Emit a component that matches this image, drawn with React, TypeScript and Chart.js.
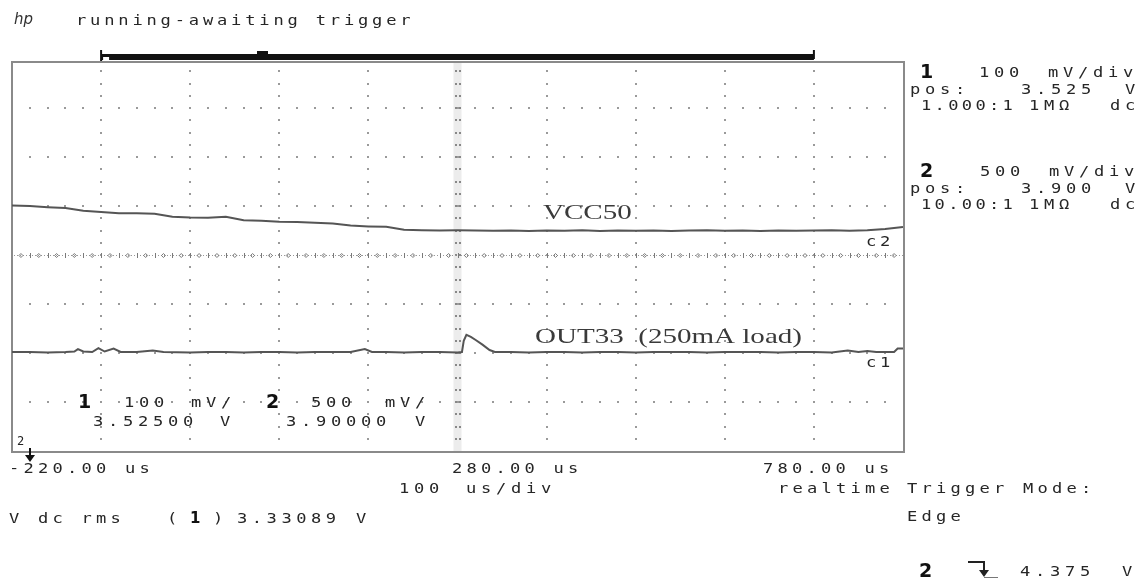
import React, { useEffect, useRef } from "react";
import { Chart, registerables } from "chart.js";

Chart.register(...registerables);

const W = 1142;
const H = 584;

// Time base: 100 us/div, 10 divisions
const timeMin = -220;
const timeMax = 780;
// Channel settings
const ch1Pos = 3.525;
const ch1PerDiv = 0.1;
const ch2Pos = 3.9;
const ch2PerDiv = 0.5;

// Channel 2 : VCC50
const vccTime = [
  -220, -200, -180, -160, -140, -120, -100, -80, -60, -40, -20, 0, 20, 40, 60, 80, 100, 120, 140, 160,
  180, 200, 220, 240, 260, 280, 300, 320, 340, 360, 380, 400, 420, 440, 460, 480, 500, 520, 540, 560,
  580, 600, 620, 640, 660, 680, 700, 720, 740, 760, 780,
];
const vccVolts = [
  4.405, 4.4, 4.388, 4.38, 4.352, 4.34, 4.326, 4.326, 4.322, 4.29, 4.282, 4.281, 4.29, 4.255, 4.25,
  4.24, 4.236, 4.228, 4.222, 4.2, 4.192, 4.188, 4.158, 4.152, 4.15, 4.152, 4.15, 4.148, 4.15, 4.146,
  4.15, 4.148, 4.152, 4.146, 4.15, 4.148, 4.15, 4.146, 4.15, 4.152, 4.148, 4.15, 4.146, 4.15, 4.148,
  4.15, 4.152, 4.148, 4.152, 4.165, 4.185,
];

// Channel 1 : OUT33 (250mA load)
const outTime = [
  -220, -200, -180, -160, -150, -146, -140, -130, -123, -116, -106, -98, -80, -62, -50, -20, 0, 20, 40,
  60, 80, 100, 120, 140, 160, 176, 184, 200, 220, 240, 260, 280, 285, 287, 290, 295, 300, 308, 316,
  322, 340, 360, 380, 400, 420, 440, 460, 480, 500, 520, 540, 560, 580, 600, 620, 640, 660, 680, 700,
  718, 730, 740, 750, 770, 774, 780,
];
const outVolts = [
  3.327, 3.327, 3.326, 3.327, 3.328, 3.333, 3.328, 3.327, 3.335, 3.328, 3.334, 3.327, 3.327, 3.33,
  3.327, 3.326, 3.327, 3.327, 3.326, 3.327, 3.327, 3.326, 3.327, 3.327, 3.327, 3.333, 3.327, 3.327,
  3.326, 3.327, 3.327, 3.326, 3.327, 3.35, 3.362, 3.358, 3.352, 3.342, 3.331, 3.327, 3.327, 3.326,
  3.327, 3.327, 3.326, 3.327, 3.327, 3.326, 3.327, 3.327, 3.327, 3.326, 3.327, 3.327, 3.327, 3.326,
  3.327, 3.327, 3.326, 3.33, 3.327, 3.329, 3.327, 3.327, 3.334, 3.334,
];

const timeLabels = ["-220.00 us", "280.00 us", "780.00 us"];

const MONO = '"DejaVu Sans Mono", "Liberation Mono", monospace';
const TXT = "#262626";

function mono(ctx: CanvasRenderingContext2D, s: string, x: number, y: number, pitch = 14.5, size = 14, color = TXT, hs = 1.22) {
  ctx.font = `${size}px ${MONO}`;
  ctx.fillStyle = color;
  ctx.textAlign = "left";
  ctx.textBaseline = "alphabetic";
  for (let i = 0; i < s.length; i++) {
    ctx.save();
    ctx.translate(x + i * pitch, y);
    ctx.scale(hs, 1);
    ctx.fillText(s[i], 0, 0);
    ctx.restore();
  }
}

function bold(ctx: CanvasRenderingContext2D, s: string, x: number, y: number, size = 19) {
  ctx.font = `bold ${size}px "DejaVu Sans", sans-serif`;
  ctx.fillStyle = "#111";
  ctx.textAlign = "left";
  ctx.textBaseline = "alphabetic";
  ctx.fillText(s, x, y);
}

function serif(ctx: CanvasRenderingContext2D, s: string, x: number, y: number) {
  ctx.save();
  ctx.translate(x, y);
  ctx.scale(1.32, 1);
  ctx.font = '22px "Liberation Serif", serif';
  ctx.fillStyle = "#3a3a3a";
  ctx.textAlign = "left";
  ctx.textBaseline = "alphabetic";
  ctx.fillText(s, 0, 0);
  ctx.restore();
}

function dot(ctx: CanvasRenderingContext2D, x: number, y: number, s = 2) {
  ctx.fillRect(Math.round(x - s / 2), Math.round(y - s / 2), s, s);
}

const scopePlugin = {
  id: "scope",
  beforeDraw(chart: any) {
    const ctx = chart.ctx as CanvasRenderingContext2D;
    ctx.save();
    ctx.fillStyle = "#fff";
    ctx.fillRect(0, 0, chart.width, chart.height);
    ctx.restore();
  },
  beforeDatasetsDraw(chart: any) {
    const ctx = chart.ctx as CanvasRenderingContext2D;
    const a = chart.chartArea;
    const dx = (a.right - a.left) / 10;
    const dy = (a.bottom - a.top) / 8;
    const cx = a.left + 5 * dx;
    const cy = a.top + 4 * dy;
    const top = 62;
    const bottom = a.bottom + 1;
    ctx.save();
    // center vertical band
    ctx.fillStyle = "#ececec";
    ctx.fillRect(cx - 4, top, 8, bottom - top);
    // vertical dotted lines
    ctx.fillStyle = "#9a9a9a";
    for (let i = 1; i < 10; i++) {
      if (i === 5) continue;
      const x = a.left + i * dx;
      for (let j = 1; j < 32; j++) {
        const y = a.top + (j * dy) / 4;
        if (y < top + 4) continue;
        dot(ctx, x, y, 2);
      }
    }
    // horizontal dotted rows
    for (let j = 1; j < 8; j++) {
      if (j === 4) continue;
      const y = a.top + j * dy;
      for (let i = 1; i < 50; i++) dot(ctx, a.left + (i * dx) / 5, y, 2);
    }
    // center vertical double dots
    ctx.fillStyle = "#888";
    for (let j = 1; j < 32; j++) {
      const y = a.top + (j * dy) / 4;
      if (y < top + 4) continue;
      dot(ctx, cx - 2, y, 2);
      dot(ctx, cx + 2, y, 2);
    }
    // center horizontal axis
    ctx.fillStyle = "#999";
    for (let x = a.left + 2; x < a.right; x += 3) ctx.fillRect(Math.round(x), Math.round(cy), 1, 1);
    ctx.strokeStyle = "#7a7a7a";
    ctx.lineWidth = 1;
    for (let i = 1; i <= 50; i++) {
      if (i < 50) {
        const x = Math.round(a.left + (i * dx) / 5) + 0.5;
        ctx.beginPath();
        ctx.moveTo(x, cy - 2);
        ctx.lineTo(x, cy + 3);
        ctx.stroke();
      }
      const xd = a.left + ((i - 0.5) * dx) / 5;
      ctx.beginPath();
      ctx.moveTo(xd - 2, cy + 0.5);
      ctx.lineTo(xd, cy - 1.5);
      ctx.lineTo(xd + 2, cy + 0.5);
      ctx.lineTo(xd, cy + 2.5);
      ctx.closePath();
      ctx.stroke();
    }
    // border
    ctx.strokeStyle = "#8a8a8a";
    ctx.lineWidth = 2;
    ctx.strokeRect(a.left, top, a.right + 1 - a.left, bottom - top);
    // time window bar
    ctx.fillStyle = "#111";
    const bx0 = a.left + dx;
    const bx1 = a.left + 9 * dx;
    ctx.fillRect(bx0, 54, bx1 - bx0, 6);
    ctx.fillRect(bx0 - 1, 50, 2, 11);
    ctx.fillStyle = "#fff";
    ctx.fillRect(bx0 + 2, 57, 6, 3);
    ctx.fillStyle = "#111";
    ctx.fillRect(257, 51, 11, 4);
    ctx.fillRect(bx1 - 1, 50, 2, 9);
    ctx.restore();
  },
  afterDatasetsDraw(chart: any) {
    const ctx = chart.ctx as CanvasRenderingContext2D;
    ctx.save();
    // header
    ctx.font = 'italic 15px "DejaVu Sans", sans-serif';
    ctx.fillStyle = "#333";
    ctx.fillText("hp", 14, 24);
    mono(ctx, "running-awaiting trigger", 76, 25, 14.1);

    // right panel
    bold(ctx, "1", 920, 78);
    mono(ctx, "100", 979, 77, 15);
    mono(ctx, "mV/div", 1048, 77, 15);
    mono(ctx, "pos:", 910, 94, 15);
    mono(ctx, "3.525", 1021, 94, 15);
    mono(ctx, "V", 1125, 94, 15);
    mono(ctx, "1.000:1", 921, 110, 13.6);
    mono(ctx, "1MΩ", 1029, 110, 15);
    mono(ctx, "dc", 1110, 110, 15);

    bold(ctx, "2", 920, 177);
    mono(ctx, "500", 980, 176, 15);
    mono(ctx, "mV/div", 1049, 176, 15);
    mono(ctx, "pos:", 910, 193, 15);
    mono(ctx, "3.900", 1021, 193, 15);
    mono(ctx, "V", 1125, 193, 15);
    mono(ctx, "10.00:1", 921, 209, 13.6);
    mono(ctx, "1MΩ", 1029, 209, 15);
    mono(ctx, "dc", 1110, 209, 15);

    // trace labels
    serif(ctx, "VCC50", 543, 219);
    serif(ctx, "OUT33  (250mA load)", 535, 343);
    mono(ctx, "c2", 866, 246, 14);
    mono(ctx, "c1", 866, 367, 14);

    // in-graticule readout
    bold(ctx, "1", 78, 408);
    mono(ctx, "100", 124, 407, 15);
    mono(ctx, "mV/", 191, 407, 15);
    bold(ctx, "2", 266, 408);
    mono(ctx, "500", 311, 407, 15);
    mono(ctx, "mV/", 385, 407, 15);
    mono(ctx, "3.52500", 93, 426, 15);
    mono(ctx, "V", 220, 426, 15);
    mono(ctx, "3.90000", 286, 426, 15);
    mono(ctx, "V", 415, 426, 15);

    // trigger reference marker
    mono(ctx, "2", 17, 445, 10, 12, "#222", 1);
    ctx.strokeStyle = "#111";
    ctx.lineWidth = 2;
    ctx.beginPath();
    ctx.moveTo(30, 448);
    ctx.lineTo(30, 459);
    ctx.stroke();
    ctx.fillStyle = "#111";
    ctx.beginPath();
    ctx.moveTo(25, 455);
    ctx.lineTo(35, 455);
    ctx.lineTo(30, 462);
    ctx.closePath();
    ctx.fill();

    // time labels
    mono(ctx, timeLabels[0], 9, 473, 14.5);
    mono(ctx, timeLabels[1], 452, 473, 14.5);
    mono(ctx, timeLabels[2], 763, 473, 14.5);
    mono(ctx, "100", 399, 493, 15);
    mono(ctx, "us/div", 466, 493, 15);
    mono(ctx, "realtime", 778, 493, 14.5);
    mono(ctx, "Trigger Mode:", 907, 493, 14.5);
    mono(ctx, "Edge", 907, 521, 14.5);

    mono(ctx, "V dc rms", 9, 523, 14.5);
    mono(ctx, "(", 167, 523, 14.5);
    bold(ctx, "1", 190, 523, 15);
    mono(ctx, ")", 213, 523, 14.5);
    mono(ctx, "3.33089", 237, 523, 14.8);
    mono(ctx, "V", 356, 523, 14.5);

    // trigger level
    bold(ctx, "2", 919, 577);
    ctx.strokeStyle = "#222";
    ctx.lineWidth = 2;
    ctx.beginPath();
    ctx.moveTo(968, 562);
    ctx.lineTo(984, 562);
    ctx.lineTo(984, 572);
    ctx.stroke();
    ctx.fillStyle = "#222";
    ctx.beginPath();
    ctx.moveTo(979, 570);
    ctx.lineTo(989, 570);
    ctx.lineTo(984, 577);
    ctx.closePath();
    ctx.fill();
    ctx.strokeStyle = "#777";
    ctx.lineWidth = 1;
    ctx.beginPath();
    ctx.moveTo(984, 577.5);
    ctx.lineTo(998, 577.5);
    ctx.stroke();
    mono(ctx, "4.375", 1020, 576, 15);
    mono(ctx, "V", 1122, 576, 15);
    ctx.restore();
  },
};

export default function App() {
  const ref = useRef<HTMLCanvasElement | null>(null);
  useEffect(() => {
    if (!ref.current) return;
    const chart = new Chart(ref.current, {
      type: "line",
      data: {
        datasets: [
          {
            label: "VCC50",
            data: vccTime.map((t, i) => ({ x: t, y: vccVolts[i] })),
            yAxisID: "y2",
            borderColor: "#555",
            borderWidth: 2,
            pointRadius: 0,
            tension: 0,
          },
          {
            label: "OUT33",
            data: outTime.map((t, i) => ({ x: t, y: outVolts[i] })),
            yAxisID: "y1",
            borderColor: "#555",
            borderWidth: 2,
            pointRadius: 0,
            tension: 0,
          },
        ],
      },
      options: {
        responsive: false,
        animation: false,
        devicePixelRatio: 1,
        layout: { padding: { left: 12, top: 59, right: W - 903, bottom: H - 451 } },
        plugins: { legend: { display: false }, tooltip: { enabled: false } },
        scales: {
          x: { type: "linear", min: timeMin, max: timeMax, display: false },
          y1: { type: "linear", min: ch1Pos - 4 * ch1PerDiv, max: ch1Pos + 4 * ch1PerDiv, display: false },
          y2: { type: "linear", min: ch2Pos - 4 * ch2PerDiv, max: ch2Pos + 4 * ch2PerDiv, display: false },
        },
      },
      plugins: [scopePlugin],
    });
    return () => chart.destroy();
  }, []);
  return (
    <div style={{ position: "fixed", left: 0, top: 0, width: W, height: H, background: "#fff" }}>
      <canvas ref={ref} width={W} height={H} />
    </div>
  );
}
